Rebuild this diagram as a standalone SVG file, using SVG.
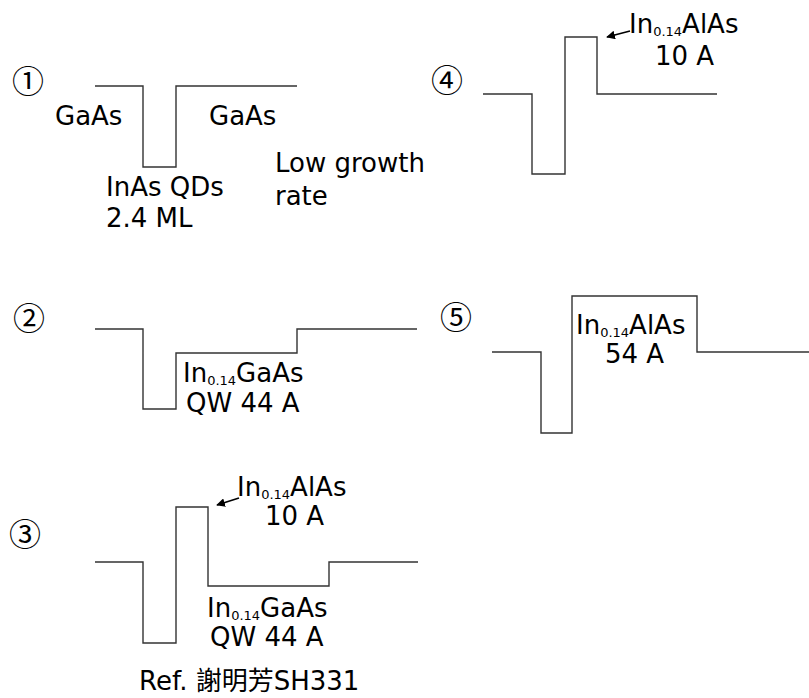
<svg xmlns="http://www.w3.org/2000/svg" width="809" height="698" viewBox="0 0 809 698">
<style>
.band{fill:none;stroke:#333;stroke-width:1.4}
.t{font-family:"DejaVu Sans","Noto Sans CJK TC",sans-serif;font-size:26px;fill:#000}
.sub{font-size:13px}
.num{font-family:"Noto Sans CJK JP",sans-serif;font-size:32px;fill:#000;text-anchor:middle}
.arr{stroke:#000;stroke-width:1.6;fill:none}
</style>
<defs>
<marker id="ah" viewBox="0 0 10 10" refX="9" refY="5" markerWidth="5.5" markerHeight="5.5" orient="auto-start-reverse" markerUnits="strokeWidth">
<path d="M0,0 L10,5 L0,10 z" fill="#000"/>
</marker>
</defs>
<rect width="809" height="698" fill="#fff"/>
<g id="panel1">
<text class="num" x="28" y="93">①</text>
<polyline class="band" points="95,86 143,86 143,167 176,167 176,86 297,86"/>
<text class="t" x="55" y="125">GaAs</text>
<text class="t" x="209" y="125">GaAs</text>
<text class="t" x="106" y="196">InAs QDs</text>
<text class="t" x="106" y="227">2.4 ML</text>
<text class="t" x="275" y="172">Low growth</text>
<text class="t" x="275" y="205">rate</text>
</g>
<g id="panel2">
<text class="num" x="29" y="330">②</text>
<polyline class="band" points="95,329 143,329 143,409 176,409 176,353 297,353 297,329 417,329"/>
<text class="t" x="183" y="382">In<tspan class="sub" dy="3">0.14</tspan><tspan dy="-3">GaAs</tspan></text>
<text class="t" x="186" y="412">QW 44 A</text>
</g>
<g id="panel3">
<text class="num" x="25" y="546">③</text>
<polyline class="band" points="95,562 143,562 143,643 176,643 176,507 208,507 208,586 329,586 329,562 418,562"/>
<text class="t" x="237" y="496">In<tspan class="sub" dy="3">0.14</tspan><tspan dy="-3">AlAs</tspan></text>
<text class="t" x="265" y="525">10 A</text>
<text class="t" x="207" y="617">In<tspan class="sub" dy="3">0.14</tspan><tspan dy="-3">GaAs</tspan></text>
<text class="t" x="210" y="646">QW 44 A</text>
<text class="t" x="139" y="690">Ref. 謝明芳SH331</text>
</g>
<g id="panel4">
<text class="num" x="447" y="92">④</text>
<polyline class="band" points="483,94 532,94 532,174 565,174 565,37 597,37 597,94 717,94"/>
<text class="t" x="629" y="33">In<tspan class="sub" dy="3">0.14</tspan><tspan dy="-3">AlAs</tspan></text>
<text class="t" x="655" y="65">10 A</text>
</g>
<g id="panel5">
<text class="num" x="456" y="329">⑤</text>
<polyline class="band" points="492,352 541,352 541,433 572,433 572,296 697,296 697,352 809,352"/>
<text class="t" x="576" y="334">In<tspan class="sub" dy="3">0.14</tspan><tspan dy="-3">AlAs</tspan></text>
<text class="t" x="605" y="363">54 A</text>
</g>
<g id="connectors">
<line class="arr" x1="630" y1="31" x2="607" y2="37" marker-end="url(#ah)"/>
<line class="arr" x1="239" y1="498" x2="217" y2="505" marker-end="url(#ah)"/>
</g>
</svg>
